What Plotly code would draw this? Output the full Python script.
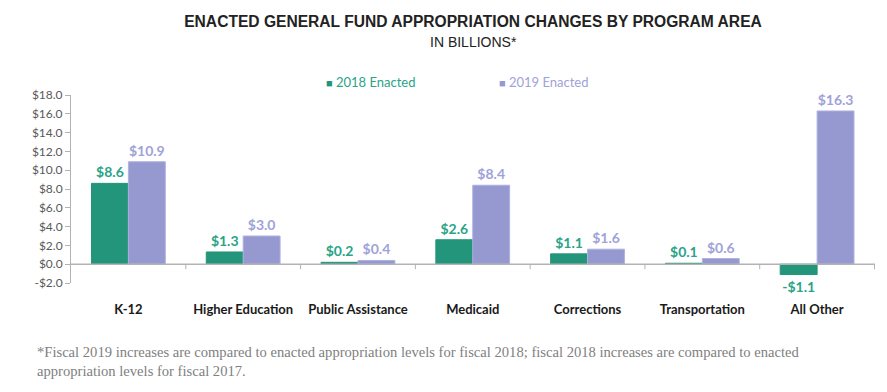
import plotly.graph_objects as go

categories = ["K-12", "Higher Education", "Public Assistance", "Medicaid",
              "Corrections", "Transportation", "All Other"]
series_names = ["2018 Enacted", "2019 Enacted"]
values_2018 = [8.6, 1.3, 0.2, 2.6, 1.1, 0.1, -1.1]
values_2019 = [10.9, 3.0, 0.4, 8.4, 1.6, 0.6, 16.3]
y_tick_vals = [-2, 0, 2, 4, 6, 8, 10, 12, 14, 16, 18]
y_tick_text = ["-$2.0", "$0.0", "$2.0", "$4.0", "$6.0", "$8.0", "$10.0",
               "$12.0", "$14.0", "$16.0", "$18.0"]
title_text = "ENACTED GENERAL FUND APPROPRIATION CHANGES BY PROGRAM AREA"
subtitle_text = "IN BILLIONS*"
footnote_text = ("*Fiscal 2019 increases are compared to enacted appropriation levels for fiscal 2018; "
                 "fiscal 2018 increases are compared to enacted<br>appropriation levels for fiscal 2017.")

GREEN = "#23957a"
GREEN_TXT = "#2aa388"
PURPLE = "#9599d0"
PURPLE_TXT = "#9fa2d9"
AXIS = "#b3b3b3"

# page body has an 8px margin: figure is sized/offset to compensate
OFF = 8
W, H = 887 - OFF, 392 - OFF
L, R, T, B = 71 - OFF, 12, 95 - OFF, 109
PH = H - T - B  # plot height in px
PW = W - L - R


def fmt(v):
    return f"-${abs(v):.1f}" if v < 0 else f"${v:.1f}"


def py(page_y):
    # page pixel y -> paper fraction
    return (H - B + OFF - page_y) / PH


def px(page_x):
    return (page_x - OFF - L) / PW


fig = go.Figure()
for name, vals, col, tcol, lcol in [
    (series_names[0], values_2018, GREEN, GREEN_TXT, GREEN),
    (series_names[1], values_2019, PURPLE, PURPLE_TXT, "#aeb1e0"),
]:
    fig.add_trace(go.Bar(
        x=categories, y=vals, name=name,
        marker=dict(color=col, line=dict(color=lcol, width=1)),
        text=[fmt(v) for v in vals], textposition="outside",
        textfont=dict(family="Lato", size=14, color=tcol, weight="bold"),
        cliponaxis=False, showlegend=False,
    ))

zero_frac = (0 - y_tick_vals[0]) / (y_tick_vals[-1] - y_tick_vals[0])
shapes = [dict(type="line", xref="paper", yref="y", x0=0, x1=1, y0=0, y1=0,
               line=dict(color=AXIS, width=1.5), layer="above")]
for i in range(1, len(categories) + 1):
    shapes.append(dict(type="line", xref="x", yref="paper", x0=i - 0.5, x1=i - 0.5,
                       y0=zero_frac, y1=zero_frac - 5 / PH, line=dict(color=AXIS, width=1)))

annotations = [
    dict(text=subtitle_text, xref="paper", yref="paper", x=0.5, y=py(42),
         xanchor="center", yanchor="middle", showarrow=False,
         font=dict(family="Liberation Sans", size=14, color="#222222")),
    dict(text=footnote_text, xref="paper", yref="paper", x=px(35), y=py(342),
         xanchor="left", yanchor="top", align="left", showarrow=False,
         font=dict(family="Liberation Serif", size=14.6, color="#808080")),
]
for name, col, tcol, lx in [(series_names[0], GREEN, GREEN_TXT, 324),
                            (series_names[1], PURPLE, PURPLE_TXT, 497)]:
    annotations.append(dict(
        text=f"<span style='color:{col};font-size:11px'>■</span><span style='color:{tcol}'> {name}</span>",
        xref="paper", yref="paper", x=px(lx), y=py(82),
        xanchor="left", yanchor="middle", showarrow=False,
        font=dict(family="Lato", size=13, color=tcol)))

fig.update_layout(
    width=W, height=H,
    margin=dict(l=L, r=R, t=T, b=B),
    paper_bgcolor="white", plot_bgcolor="white",
    barmode="group", bargap=0.357, bargroupgap=0,
    title=dict(text=f"<b>{title_text}</b>", x=0.5, xref="paper", xanchor="center",
               y=1 - (22 - OFF) / H, yanchor="middle",
               font=dict(family="Liberation Sans", size=15.6, color="#222222")),
    xaxis=dict(type="category", showline=False, showgrid=False, zeroline=False,
               ticks="outside", ticklen=14, tickcolor="rgba(0,0,0,0)",
               tickfont=dict(family="Lato", size=13, color="#1a1a1a", weight="bold")),
    yaxis=dict(range=[y_tick_vals[0], y_tick_vals[-1]], tickvals=y_tick_vals, ticktext=y_tick_text,
               showgrid=False, zeroline=False, showline=True, linecolor=AXIS, linewidth=1,
               ticks="outside", ticklen=5, tickcolor=AXIS,
               tickfont=dict(family="Lato", size=12, color="#595959")),
    shapes=shapes, annotations=annotations,
)

fig.write_html("out.html")
